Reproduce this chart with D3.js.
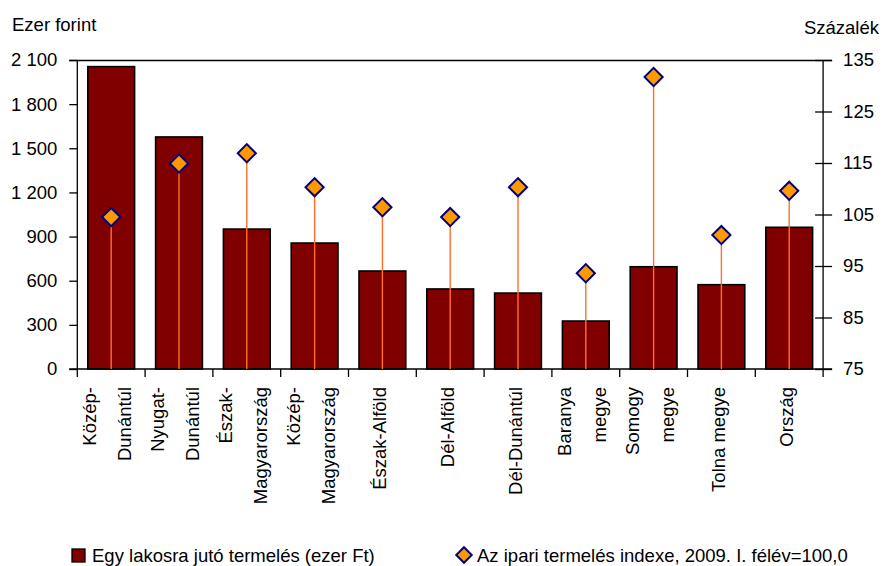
<!DOCTYPE html>
<html>
<head>
<meta charset="utf-8">
<script src="https://cdn.jsdelivr.net/npm/d3@7"></script>
<style>
  html, body { margin: 0; padding: 0; background: #fff; }
  svg text { font-family: "Liberation Sans", Arial, sans-serif; fill: #000; }
</style>
</head>
<body>
<svg id="chart" width="883" height="566"></svg>
<script>
// ---- data ----
const categories = [
  "Közép-\nDunántúl", "Nyugat-\nDunántúl", "Észak-\nMagyarország", "Közép-\nMagyarország",
  "Észak-Alföld", "Dél-Alföld", "Dél-Dunántúl", "Baranya\nmegye", "Somogy\nmegye",
  "Tolna megye", "Ország"
];
const production = [2055, 1577, 951, 856, 666, 544, 516, 326, 695, 573, 963];
const productionIndex = [104.5, 114.9, 116.9, 110.3, 106.4, 104.5, 110.3, 93.6, 131.7, 101.0, 109.6];
const leftTicks = [0, 300, 600, 900, 1200, 1500, 1800, 2100];
const leftTickLabels = ["0", "300", "600", "900", "1 200", "1 500", "1 800", "2 100"];
const rightTicks = [75, 85, 95, 105, 115, 125, 135];
const leftTitle = "Ezer forint";
const rightTitle = "Százalék";
const legendLabels = ["Egy lakosra jutó termelés (ezer Ft)", "Az ipari termelés indexe, 2009. I. félév=100,0"];

// ---- layout ----
const plot = { left: 77.3, right: 823.1, top: 60, bottom: 369 };
const fontSize = 18.5;
const barColor = "#800000";
const lineColor = "#ff6f2a";
const diamondFill = "#ff9900";
const diamondStroke = "#000080";

const svg = d3.select("#chart");

const x = d3.scaleBand().domain(categories).range([plot.left, plot.right]).padding(0);
const yL = d3.scaleLinear().domain([0, 2100]).range([plot.bottom, plot.top]);
const yR = d3.scaleLinear().domain([75, 135]).range([plot.bottom, plot.top]);
const barW = x.bandwidth() * 0.69;
const cx = c => x(c) + x.bandwidth() / 2;

// top border
svg.append("line")
  .attr("x1", plot.left - 8).attr("x2", plot.right + 9)
  .attr("y1", plot.top + 0.5).attr("y2", plot.top + 0.5)
  .attr("stroke", "#000").attr("stroke-width", 1.3);

// bars
svg.append("g").selectAll("rect").data(categories).join("rect")
  .attr("x", c => cx(c) - barW / 2)
  .attr("y", (c, i) => yL(production[i]))
  .attr("width", barW)
  .attr("height", (c, i) => yL(0) - yL(production[i]))
  .attr("fill", barColor)
  .attr("stroke", "#000")
  .attr("stroke-width", 1.6);

// left axis
const axL = svg.append("g").attr("transform", `translate(${plot.left},0)`)
  .call(d3.axisLeft(yL).tickValues(leftTicks).tickSize(8).tickSizeOuter(0).tickPadding(12)
    .tickFormat((d, i) => leftTickLabels[i]));
axL.select(".domain").remove();
axL.selectAll(".tick line").attr("stroke", "#000").attr("stroke-width", 1.3);
axL.selectAll(".tick text").style("font-size", fontSize + "px").attr("dy", "0.32em");
svg.append("line").attr("x1", plot.left).attr("x2", plot.left)
  .attr("y1", plot.top).attr("y2", plot.bottom + 8)
  .attr("stroke", "#000").attr("stroke-width", 1.3);

// right axis
const axR = svg.append("g").attr("transform", `translate(${plot.right},0)`)
  .call(d3.axisRight(yR).tickValues(rightTicks).tickSize(9).tickSizeOuter(0).tickPadding(11)
    .tickFormat(d3.format("d")));
axR.select(".domain").remove();
axR.selectAll(".tick line").attr("x1", -8).attr("stroke", "#000").attr("stroke-width", 1.3);
axR.selectAll(".tick text").style("font-size", fontSize + "px").attr("dy", "0.32em");
svg.append("line").attr("x1", plot.right).attr("x2", plot.right)
  .attr("y1", plot.top).attr("y2", plot.bottom + 8)
  .attr("stroke", "#000").attr("stroke-width", 1.3);

// bottom axis line and category separators
svg.append("line").attr("x1", plot.left - 8).attr("x2", plot.right + 9)
  .attr("y1", plot.bottom).attr("y2", plot.bottom)
  .attr("stroke", "#000").attr("stroke-width", 1.3);
svg.append("g").selectAll("line").data(categories.slice(1)).join("line")
  .attr("x1", c => x(c)).attr("x2", c => x(c))
  .attr("y1", plot.bottom).attr("y2", plot.bottom + 8)
  .attr("stroke", "#000").attr("stroke-width", 1.3);

// category labels (rotated)
const labG = svg.append("g");
categories.forEach(c => {
  const lines = c.split("\n");
  const offs = lines.length === 1 ? [4] : [-15, 20];
  lines.forEach((t, j) => {
    labG.append("text")
      .attr("transform", `translate(${cx(c) + offs[j]},387) rotate(-90)`)
      .attr("text-anchor", "end")
      .style("font-size", fontSize + "px")
      .text(t);
  });
});

// drop lines
svg.append("g").selectAll("line").data(categories).join("line")
  .attr("x1", c => cx(c)).attr("x2", c => cx(c))
  .attr("y1", (c, i) => yR(productionIndex[i]))
  .attr("y2", plot.bottom)
  .attr("stroke", lineColor).attr("stroke-width", 1.4);

// diamonds
const dia = d3.symbol().type(d3.symbolSquare).size(165);
svg.append("g").selectAll("path").data(categories).join("path")
  .attr("d", dia)
  .attr("transform", (c, i) => `translate(${cx(c)},${yR(productionIndex[i])}) rotate(45)`)
  .attr("fill", diamondFill).attr("stroke", diamondStroke).attr("stroke-width", 2);

// axis titles
svg.append("text").attr("x", 12).attr("y", 31).style("font-size", fontSize + "px").text(leftTitle);
svg.append("text").attr("x", 879).attr("y", 34).attr("text-anchor", "end")
  .style("font-size", fontSize + "px").text(rightTitle);

// legend
const lg = svg.append("g");
lg.append("rect").attr("x", 72).attr("y", 549).attr("width", 13).attr("height", 13)
  .attr("fill", barColor).attr("stroke", "#000").attr("stroke-width", 1.3);
lg.append("text").attr("x", 92).attr("y", 562).style("font-size", fontSize + "px").text(legendLabels[0]);
lg.append("path").attr("d", d3.symbol().type(d3.symbolSquare).size(120))
  .attr("transform", "translate(464,555) rotate(45)")
  .attr("fill", diamondFill).attr("stroke", diamondStroke).attr("stroke-width", 2);
lg.append("text").attr("x", 477).attr("y", 562).style("font-size", fontSize + "px").text(legendLabels[1]);
</script>
</body>
</html>
